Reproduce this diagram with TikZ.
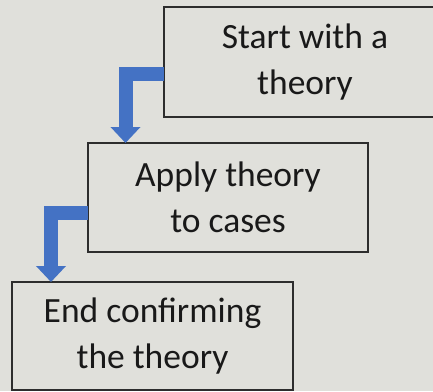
\documentclass[tikz,border=0pt]{standalone}
\usepackage{fontspec}
\setmainfont{Carlito}
\usetikzlibrary{arrows.meta}
\definecolor{bgc}{RGB}{224,224,219}
\definecolor{flowblue}{RGB}{68,114,196}
\definecolor{edgec}{RGB}{45,45,45}
\definecolor{txtc}{RGB}{25,25,25}
\begin{document}
\begin{tikzpicture}[x=1pt,y=-1pt,
  stepbox/.style={draw=edgec, line width=1.2pt, fill=bgc, rectangle, inner sep=0pt, outer sep=0pt,
    align=center, text=txtc, font={\fontsize{35.5}{45.5}\selectfont}},
  flowarrow/.style={draw=flowblue, line width=14pt, line cap=butt, line join=miter,
    -{Triangle[width=29pt,length=16pt]}}]
\useasboundingbox (0,0) rectangle (433,391);
\fill[bgc] (0,0) rectangle (433,391);
\clip (0,0) rectangle (433,391);
\node[stepbox, minimum width=282pt, minimum height=110pt] (b1) at (305,62) {Start with a\\theory};
\node[stepbox, minimum width=280pt, minimum height=109pt] (b2) at (228,197.5) {Apply theory\\to cases};
\node[stepbox, minimum width=281pt, minimum height=108pt] (b3) at (152.5,336) {End confirming\\the theory};
\draw[flowarrow] ([yshift=-12pt]b1.west) -| ([xshift=37.5pt]b2.north west);
\draw[flowarrow] ([yshift=-15.5pt]b2.west) -| ([xshift=39pt]b3.north west);
\end{tikzpicture}
\end{document}
